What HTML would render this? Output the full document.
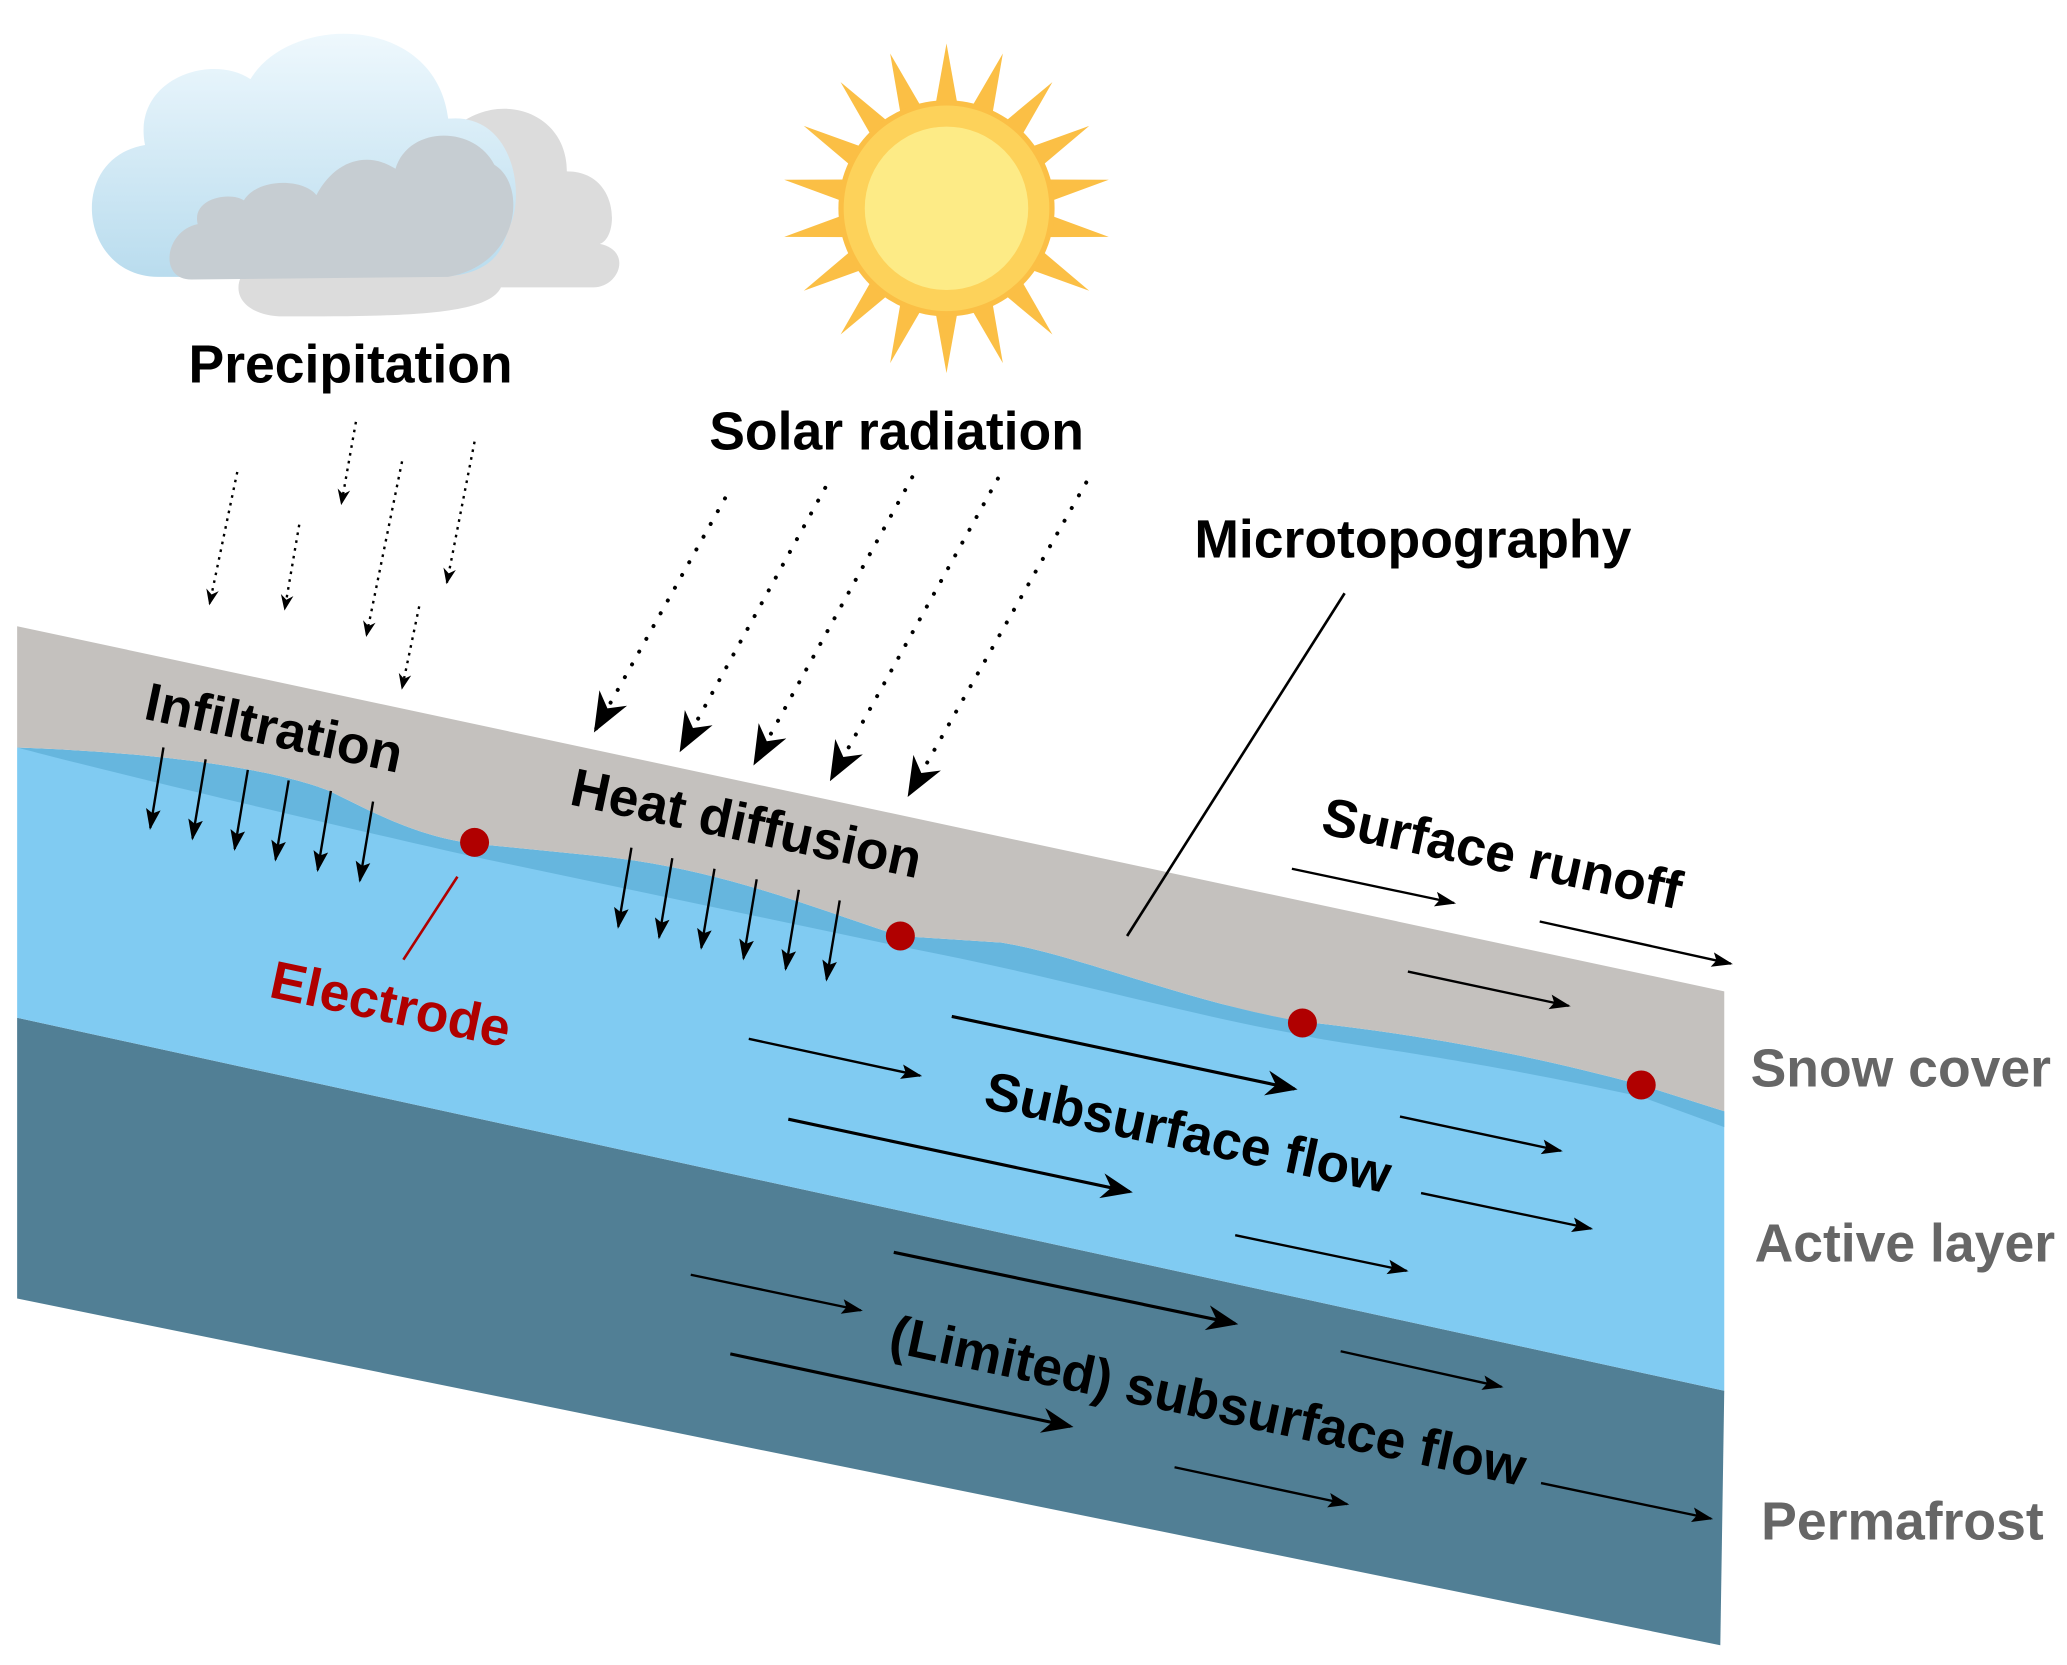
<!DOCTYPE html>
<html><head><meta charset="utf-8"><style>
html,body{margin:0;padding:0;background:#fff}
svg{display:block}
text{font-family:"Liberation Sans",Arial,sans-serif;font-weight:bold}
</style></head><body>
<svg width="2067" height="1665" viewBox="0 0 1568 1263" xmlns="http://www.w3.org/2000/svg">
<defs>
<marker id="ah" viewBox="0 0 10 10" refX="9" refY="5" markerWidth="7" markerHeight="7" orient="auto" markerUnits="userSpaceOnUse"><path d="M0,1 L10,5 L0,9 L3,5 z" fill="#000"/></marker>
<marker id="ahs" viewBox="0 0 10 10" refX="9" refY="5" markerWidth="12" markerHeight="12" orient="auto" markerUnits="userSpaceOnUse"><path d="M0,1 L10,5 L0,9 L3,5 z" fill="#000"/></marker>
<marker id="ahb" viewBox="0 0 10 10" refX="9" refY="5" markerWidth="24" markerHeight="24" orient="auto" markerUnits="userSpaceOnUse"><path d="M0,1 L10,5 L0,9 L3,5 z" fill="#000"/></marker>
<marker id="ahx" viewBox="0 0 10 10" refX="9" refY="5" markerWidth="30" markerHeight="30" orient="auto" markerUnits="userSpaceOnUse"><path d="M0,1 L10,5 L0,9 L3,5 z" fill="#000"/></marker>
<marker id="ahm" viewBox="0 0 10 10" refX="9" refY="5" markerWidth="16" markerHeight="16" orient="auto" markerUnits="userSpaceOnUse"><path d="M0,1.5 L10,5 L0,8.5 L2,5 z" fill="#000"/></marker>
<linearGradient id="cg" x1="0" y1="0" x2="0" y2="1"><stop offset="0" stop-color="#eef8fd"/><stop offset="1" stop-color="#b9dcee"/></linearGradient>
</defs>
<polygon points="13,772 1308,1055 1305,1248 13,985" fill="#517f95"/>
<polygon points="13,567 1308,843 1308,1055 13,772" fill="#80cbf2"/>
<path d="M13,567 C100,570 200,580 250,600 C290,620 320,635 360,640 L460,650 C550,660 620,690 683,710 L760,715 C820,725 900,760 988,775 C1080,785 1160,800 1245,823 L1308,843 L1308,855 L1245,832 C1100,800 1000,790 988,785 C900,770 800,740 683,718 L360,650 C250,625 100,590 13,567 z" fill="#66b6de"/>
<path d="M13,475 L1308,752 L1308,843 L1245,823 C1160,800 1080,785 988,775 C900,760 820,725 760,715 L683,710 C620,690 550,660 460,650 L360,640 C320,635 290,620 250,600 C200,580 100,570 13,567 z" fill="#c4c1be"/>
<g fill="#b00000"><circle cx="360" cy="639" r="11"/><circle cx="683" cy="710" r="11"/><circle cx="988" cy="776" r="11"/><circle cx="1245" cy="823" r="11"/></g>
<line x1="347" y1="665" x2="306" y2="728" stroke="#b00000" stroke-width="2"/>
<text font-size="40.6" fill="#b00000" transform="translate(203,756) rotate(12)">Electrode</text>
<g>
<path d="M215,240 C185,240 170,220 190,200 C160,190 160,175 190,175 C190,110 290,100 320,140 C340,60 430,70 430,130 C470,130 470,180 455,185 C480,190 470,218 450,218 L380,218 C370,240 300,240 215,240 z" fill="#dcdcdc"/>
<path d="M120,210 C60,210 50,120 110,110 C100,60 160,40 190,60 C220,10 330,10 340,90 C390,85 400,150 385,175 C380,200 360,210 330,210 z" fill="url(#cg)"/>
<path d="M145,212 C120,212 125,175 150,170 C145,150 175,145 185,152 C195,135 230,135 240,148 C255,120 280,115 300,128 C310,95 360,95 375,125 C400,140 395,200 340,210 z" fill="#c6cdd2"/>
</g>
<g transform="translate(718,158)">
<g fill="#fbbf45">
<polygon points="0,-125 9,-75 -9,-75" transform="rotate(0)"/><polygon points="0,-125 9,-75 -9,-75" transform="rotate(20)"/><polygon points="0,-125 9,-75 -9,-75" transform="rotate(40)"/><polygon points="0,-125 9,-75 -9,-75" transform="rotate(60)"/><polygon points="0,-125 9,-75 -9,-75" transform="rotate(80)"/><polygon points="0,-125 9,-75 -9,-75" transform="rotate(100)"/><polygon points="0,-125 9,-75 -9,-75" transform="rotate(120)"/><polygon points="0,-125 9,-75 -9,-75" transform="rotate(140)"/><polygon points="0,-125 9,-75 -9,-75" transform="rotate(160)"/><polygon points="0,-125 9,-75 -9,-75" transform="rotate(180)"/><polygon points="0,-125 9,-75 -9,-75" transform="rotate(200)"/><polygon points="0,-125 9,-75 -9,-75" transform="rotate(220)"/><polygon points="0,-125 9,-75 -9,-75" transform="rotate(240)"/><polygon points="0,-125 9,-75 -9,-75" transform="rotate(260)"/><polygon points="0,-125 9,-75 -9,-75" transform="rotate(280)"/><polygon points="0,-125 9,-75 -9,-75" transform="rotate(300)"/><polygon points="0,-125 9,-75 -9,-75" transform="rotate(320)"/><polygon points="0,-125 9,-75 -9,-75" transform="rotate(340)"/>
<circle r="82"/></g>
<circle r="78" fill="#fdd25a"/><circle r="62" fill="#fdeb86"/>
</g>
<text x="143" y="290" font-size="40.6">Precipitation</text>
<text x="538" y="341" font-size="40.6">Solar radiation</text>
<text x="906" y="423" font-size="40.6">Microtopography</text>
<line x1="1020" y1="450" x2="855" y2="710" stroke="#000" stroke-width="2"/>
<g fill="#666" font-size="40.6"><text x="1328" y="824">Snow cover</text><text x="1331" y="957">Active layer</text><text x="1336" y="1168">Permafrost</text></g>
<text font-size="40.6" transform="translate(108,545) rotate(12)">Infiltration</text>
<text font-size="40.6" transform="translate(431,610) rotate(12)">Heat diffusion</text>
<text font-size="40.6" transform="translate(1001,632) rotate(12)">Surface runoff</text>
<text font-size="40.6" transform="translate(745,840) rotate(12)">Subsurface flow</text>
<text font-size="40.6" transform="translate(673,1025) rotate(12)">(Limited) subsurface flow</text>
<g stroke="#000" stroke-width="1.8" stroke-dasharray="2,4" marker-end="url(#ahs)">
<line x1="180" y1="358" x2="159" y2="458"/><line x1="227" y1="398" x2="216" y2="462"/>
<line x1="270" y1="320" x2="259" y2="382"/><line x1="305" y1="350" x2="278" y2="482"/>
<line x1="360" y1="335" x2="339" y2="442"/><line x1="318" y1="460" x2="305" y2="522"/>
</g>
<g stroke="#000" stroke-width="3" stroke-dasharray="0.1,11" stroke-linecap="round" marker-end="url(#ahx)">
<line x1="550" y1="378" x2="452" y2="553"/><line x1="626" y1="370" x2="517" y2="568"/>
<line x1="692" y1="362" x2="573" y2="578"/><line x1="757" y1="363" x2="631" y2="590"/>
<line x1="824" y1="366" x2="690" y2="602"/>
</g>
<g stroke="#000" stroke-width="1.8" marker-end="url(#ahm)">
<line x1="124" y1="567" x2="114" y2="628"/><line x1="156" y1="576" x2="146" y2="636"/><line x1="188" y1="584" x2="178" y2="644"/>
<line x1="219" y1="592" x2="209" y2="652"/><line x1="251" y1="600" x2="241" y2="660"/><line x1="283" y1="608" x2="273" y2="668"/>
<line x1="479" y1="643" x2="469" y2="703"/><line x1="510" y1="651" x2="500" y2="711"/><line x1="542" y1="659" x2="532" y2="719"/>
<line x1="574" y1="667" x2="564" y2="727"/><line x1="606" y1="675" x2="596" y2="735"/><line x1="637" y1="683" x2="627" y2="743"/>
</g>
<g stroke="#000" stroke-width="1.8" marker-end="url(#ahm)">
<line x1="980" y1="659" x2="1103" y2="685"/><line x1="1168" y1="699" x2="1313" y2="731"/>
<line x1="1068" y1="737" x2="1190" y2="763"/>
<line x1="568" y1="788" x2="698" y2="816"/><line x1="1062" y1="847" x2="1184" y2="873"/>
<line x1="1078" y1="905" x2="1207" y2="932"/><line x1="937" y1="937" x2="1067" y2="964"/>
<line x1="524" y1="967" x2="653" y2="994"/><line x1="1017" y1="1025" x2="1139" y2="1052"/>
<line x1="891" y1="1113" x2="1022" y2="1141"/><line x1="1169" y1="1125" x2="1298" y2="1152"/>
</g>
<g stroke="#000" stroke-width="2.4" marker-end="url(#ahb)">
<line x1="722" y1="771" x2="982" y2="826"/><line x1="598" y1="849" x2="857" y2="904"/>
<line x1="678" y1="950" x2="937" y2="1004"/><line x1="554" y1="1027" x2="812" y2="1082"/>
</g>
</svg>
</body></html>
